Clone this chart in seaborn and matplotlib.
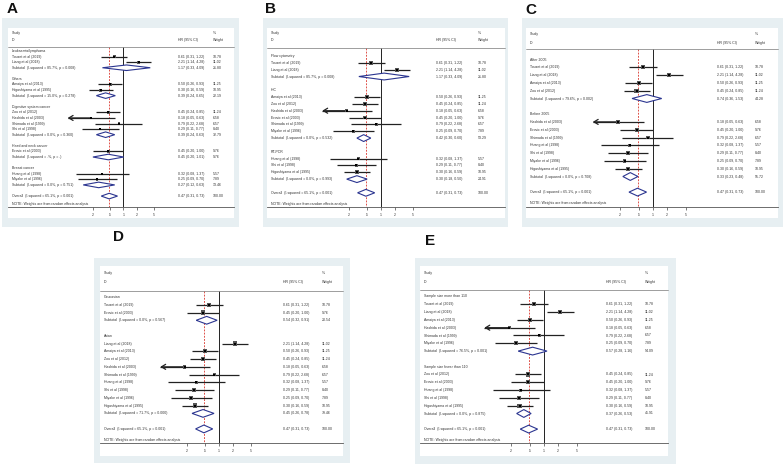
import numpy as np
import pandas as pd
import matplotlib
matplotlib.use("Agg")
import matplotlib.pyplot as plt
import seaborn as sns
from matplotlib.patches import Rectangle, Polygon
from matplotlib.transforms import blended_transform_factory
from matplotlib.ticker import NullLocator

# ---------------- data ----------------
STUDY = ["Touzet et al (2019)", "Liang et al (2018)", "Amaiya et al (2013)", "Zou et al (2012)",
         "Hashida et al (2003)", "Erovic et al (2003)", "Shimada et al (1999)", "Huang et al (1998)",
         "Shi et al (1998)", "Miyake et al (1996)", "Higashiyama et al (1995)"]
HR = [0.61, 2.21, 0.50, 0.45, 0.18, 0.45, 0.79, 0.32, 0.29, 0.25, 0.30]
LO = [0.31, 1.14, 0.26, 0.24, 0.05, 0.20, 0.22, 0.08, 0.11, 0.09, 0.16]
HI = [1.22, 4.28, 0.93, 0.85, 0.63, 1.00, 2.68, 1.37, 0.77, 0.70, 0.59]
WEIGHT = [10.78, 11.02, 11.25, 11.24, 6.58, 9.76, 6.57, 5.57, 8.40, 7.89, 10.95]

OVERALL_LABEL = "Overall  (I-squared = 65.1%, p = 0.001)"
OVERALL_HR, OVERALL_LO, OVERALL_HI, OVERALL_W = 0.47, 0.31, 0.73, 100.00
NOTE = "NOTE: Weights are from random effects analysis"

TICKS = [0.2, 0.5, 1, 2, 5]
TICK_LABELS = [".2", ".5", "1", "2", "5"]

A_GROUPS = ["Leukaemia/lymphoma", "Others", "Digestive system cancer", "Head and neck cancer", "Breast cancer"]
A_MEMBERS = [["Touzet et al (2019)", "Liang et al (2018)"],
             ["Amaiya et al (2013)", "Higashiyama et al (1995)"],
             ["Zou et al (2012)", "Hashida et al (2003)", "Shimada et al (1999)", "Shi et al (1998)"],
             ["Erovic et al (2003)"],
             ["Huang et al (1998)", "Miyake et al (1996)"]]
A_SUB_STAT = ["(I-squared = 85.7%, p = 0.008)", "(I-squared = 15.0%, p = 0.278)",
              "(I-squared = 0.0%, p = 0.360)", "(I-squared = .%, p = .)", "(I-squared = 0.0%, p = 0.751)"]
A_SUB_HR = [1.17, 0.39, 0.39, 0.45, 0.27]
A_SUB_LO = [0.33, 0.24, 0.24, 0.20, 0.12]
A_SUB_HI = [4.09, 0.65, 0.63, 1.01, 0.63]
A_SUB_W = [21.80, 22.19, 32.79, 9.76, 13.46]

B_GROUPS = ["Flow cytometry", "IHC", "RT-PCR"]
B_MEMBERS = [["Touzet et al (2019)", "Liang et al (2018)"],
             ["Amaiya et al (2013)", "Zou et al (2012)", "Hashida et al (2003)", "Erovic et al (2003)",
              "Shimada et al (1999)", "Miyake et al (1996)"],
             ["Huang et al (1998)", "Shi et al (1998)", "Higashiyama et al (1995)"]]
B_SUB_STAT = ["(I-squared = 85.7%, p = 0.008)", "(I-squared = 0.0%, p = 0.532)", "(I-squared = 0.0%, p = 0.993)"]
B_SUB_HR = [1.17, 0.42, 0.30]
B_SUB_LO = [0.33, 0.30, 0.18]
B_SUB_HI = [4.09, 0.60, 0.50]
B_SUB_W = [21.80, 53.29, 24.91]

C_GROUPS = ["After 2005", "Before 2005"]
C_MEMBERS = [["Touzet et al (2019)", "Liang et al (2018)", "Amaiya et al (2013)", "Zou et al (2012)"],
             ["Hashida et al (2003)", "Erovic et al (2003)", "Shimada et al (1999)", "Huang et al (1998)",
              "Shi et al (1998)", "Miyake et al (1996)", "Higashiyama et al (1995)"]]
C_SUB_STAT = ["(I-squared = 79.6%, p = 0.002)", "(I-squared = 0.0%, p = 0.708)"]
C_SUB_HR = [0.74, 0.33]
C_SUB_LO = [0.36, 0.23]
C_SUB_HI = [1.53, 0.48]
C_SUB_W = [44.28, 55.72]

D_GROUPS = ["Caucasian", "Asian"]
D_MEMBERS = [["Touzet et al (2019)", "Erovic et al (2003)"],
             ["Liang et al (2018)", "Amaiya et al (2013)", "Zou et al (2012)", "Hashida et al (2003)",
              "Shimada et al (1999)", "Huang et al (1998)", "Shi et al (1998)", "Miyake et al (1996)",
              "Higashiyama et al (1995)"]]
D_SUB_STAT = ["(I-squared = 0.0%, p = 0.567)", "(I-squared = 71.7%, p = 0.000)"]
D_SUB_HR = [0.54, 0.45]
D_SUB_LO = [0.32, 0.26]
D_SUB_HI = [0.91, 0.78]
D_SUB_W = [20.54, 79.46]

E_GROUPS = ["Sample size more than 110", "Sample size fewer than 110"]
E_MEMBERS = [["Touzet et al (2019)", "Liang et al (2018)", "Amaiya et al (2013)", "Hashida et al (2003)",
              "Shimada et al (1999)", "Miyake et al (1996)"],
             ["Zou et al (2012)", "Erovic et al (2003)", "Huang et al (1998)", "Shi et al (1998)",
              "Higashiyama et al (1995)"]]
E_SUB_STAT = ["(I-squared = 76.5%, p = 0.001)", "(I-squared = 0.0%, p = 0.875)"]
E_SUB_HR = [0.57, 0.37]
E_SUB_LO = [0.28, 0.26]
E_SUB_HI = [1.16, 0.53]
E_SUB_W = [54.09, 45.91]

PANELS = [
    ("A", A_GROUPS, A_MEMBERS, A_SUB_STAT, A_SUB_HR, A_SUB_LO, A_SUB_HI, A_SUB_W),
    ("B", B_GROUPS, B_MEMBERS, B_SUB_STAT, B_SUB_HR, B_SUB_LO, B_SUB_HI, B_SUB_W),
    ("C", C_GROUPS, C_MEMBERS, C_SUB_STAT, C_SUB_HR, C_SUB_LO, C_SUB_HI, C_SUB_W),
    ("D", D_GROUPS, D_MEMBERS, D_SUB_STAT, D_SUB_HR, D_SUB_LO, D_SUB_HI, D_SUB_W),
    ("E", E_GROUPS, E_MEMBERS, E_SUB_STAT, E_SUB_HR, E_SUB_LO, E_SUB_HI, E_SUB_W),
]

# ---------------- layout (pixels) ----------------
W, H = 783, 465
LAYOUT = {
    "A": dict(bg=(2, 18, 239, 227), white=(8, 28, 234, 218), axis=207, r0=51, dy=5.58, p1=123.5, s=19,
              hr_x=178, w_x=213, study_y=33, id_y=39.5, sep_y=47, note_y=204, label=(7, 13)),
    "B": dict(bg=(263, 18, 508, 227), white=(267, 28, 505, 218), axis=207, r0=56, dy=6.84, p1=381, s=20,
              hr_x=436, w_x=478, study_y=33, id_y=40, sep_y=48, note_y=204, label=(265, 13)),
    "C": dict(bg=(522, 18, 783, 227), white=(526, 28, 778, 218), axis=207, r0=59.5, dy=7.8, p1=653, s=20.5,
              hr_x=717, w_x=755, study_y=34, id_y=43, sep_y=49, note_y=203, label=(525, 14)),
    "D": dict(bg=(94, 258, 350, 463), white=(100, 266, 343, 456), axis=443, r0=297, dy=7.76, p1=219, s=20,
              hr_x=283, w_x=322, study_y=273, id_y=282, sep_y=291, note_y=440, label=(113, 241)),
    "E": dict(bg=(415, 258, 676, 464), white=(420, 266, 668, 456), axis=443, r0=296.5, dy=7.8, p1=544, s=20.3,
              hr_x=606, w_x=645, study_y=273, id_y=282, sep_y=290, note_y=440, label=(425, 245)),
}
CLIP_LO = 0.053
FS = 2.5
TXT = "#333333"
BG = "#e7eff2"
DIAMOND = "#2b3590"
CI_COLOR = "#222222"

sns.set_theme(style="white")
plt.rcParams["font.family"] = ["Liberation Sans", "DejaVu Sans"]

fig = plt.figure(figsize=(W / 100, H / 100), dpi=100)
fig.patch.set_facecolor("white")

lookup = {n: i for i, n in enumerate(STUDY)}


def fmt(h, l, u):
    return f"{h:.2f} ({l:.2f}, {u:.2f})"


for key, groups, members, sstat, shr, slo, shi, sw in PANELS:
    lay = LAYOUT[key]
    bx0, by0, bx1, by1 = lay["bg"]
    wx0, wy0, wx1, wy1 = lay["white"]
    fig.patches.append(Rectangle((bx0 / W, 1 - by1 / H), (bx1 - bx0) / W, (by1 - by0) / H,
                                 transform=fig.transFigure, facecolor=BG, edgecolor="none", zorder=-3))
    fig.patches.append(Rectangle((wx0 / W, 1 - wy1 / H), (wx1 - wx0) / W, (wy1 - wy0) / H,
                                 transform=fig.transFigure, facecolor="white", edgecolor="none", zorder=-2))
    lx, ly = lay["label"]
    fig.text(lx / W, 1 - ly / H, key, fontsize=11, fontweight="bold", ha="left", va="baseline",
             family=["Liberation Sans", "DejaVu Sans"], color="#111111")

    L, R, T, AX = wx0, wx1, wy0, lay["axis"]
    r0, dy, p1, s = lay["r0"], lay["dy"], lay["p1"], lay["s"]
    ax = fig.add_axes([L / W, 1 - AX / H, (R - L) / W, (AX - T) / H])
    ax.set_facecolor("none")
    ax.set_xscale("log")
    xlim = (np.exp((L - p1) / s), np.exp((R - p1) / s))
    ybot, ytop = (AX - r0) / dy, (T - r0) / dy
    trans = blended_transform_factory(ax.transAxes, ax.transData)

    def row(py):
        return (py - r0) / dy

    def tx(px):
        return (px - L) / (R - L)

    xt = tx(L + 4)
    kw = dict(fontsize=FS, color=TXT, va="center", transform=trans)

    recs, subs, heads = [], [], []
    i = 0
    for g, mem, st, h, l, u, w in zip(groups, members, sstat, shr, slo, shi, sw):
        heads.append((g, i))
        i += 1
        for m in mem:
            k = lookup[m]
            recs.append(dict(study=m, hr=HR[k], lo=LO[k], hi=HI[k], w=WEIGHT[k], row=float(i)))
            i += 1
        subs.append(dict(label="Subtotal  " + st, hr=h, lo=l, hi=u, w=w, row=float(i)))
        i += 2
    subs.append(dict(label=OVERALL_LABEL, hr=OVERALL_HR, lo=OVERALL_LO, hi=OVERALL_HI, w=OVERALL_W, row=float(i)))
    df = pd.DataFrame(recs)
    sdf = pd.DataFrame(subs)

    # confidence intervals
    lo_arr = df["lo"].to_numpy(dtype=float)
    hi_arr = df["hi"].to_numpy(dtype=float)
    hr_arr = df["hr"].to_numpy(dtype=float)
    rows_arr = df["row"].to_numpy(dtype=float)
    ax.hlines(rows_arr, np.maximum(lo_arr, CLIP_LO), hi_arr, colors=CI_COLOR, linewidth=0.9, zorder=4)
    for yv, lv, hv in zip(rows_arr, lo_arr, hr_arr):
        if lv < CLIP_LO:
            ax.annotate("", xy=(CLIP_LO, yv), xytext=(hv, yv), xycoords="data", textcoords="data",
                        arrowprops=dict(arrowstyle="->,head_length=0.25,head_width=0.15", lw=0.9,
                                        color=CI_COLOR, shrinkA=0, shrinkB=0), zorder=4)

    # weight boxes (seaborn)
    side_k = 0.56 * dy / np.sqrt(11.25) * 0.72
    sns.scatterplot(data=df, x="hr", y="row", size="w", sizes=(0, side_k ** 2 * 12), size_norm=(0, 12),
                    marker="s", color="#555555", linewidth=0, legend=False, ax=ax, zorder=5)
    ax.scatter(hr_arr, rows_arr, s=0.8, marker="s", color="black", linewidths=0, zorder=6)

    # reference lines
    ax.vlines([1.0], row(lay["sep_y"]), ybot, colors="#222222", linewidth=0.7, zorder=1)
    ax.vlines([OVERALL_HR], row(lay["sep_y"]), ybot, colors="#d9342b", linewidth=0.6,
              linestyles=(0, (2.2, 1.6)), zorder=1)

    # diamonds
    for yv, lv, hv, uv in zip(sdf["row"], sdf["lo"], sdf["hr"], sdf["hi"]):
        ax.add_patch(Polygon([[lv, yv], [hv, yv - 0.5], [uv, yv], [hv, yv + 0.5]],
                             closed=True, facecolor="white", edgecolor=DIAMOND, lw=0.8, zorder=3))

    # texts
    ax.text(xt, row(lay["study_y"]), "Study", **kw)
    ax.text(xt, row(lay["id_y"]), "ID", **kw)
    ax.text(tx(lay["hr_x"]), row(lay["id_y"]), "HR (95% CI)", **kw)
    ax.text(tx(lay["w_x"]), row(lay["study_y"]), "%", **kw)
    ax.text(tx(lay["w_x"]), row(lay["id_y"]), "Weight", **kw)
    ax.plot([0, 1], [row(lay["sep_y"])] * 2, transform=trans, color="#777777", lw=0.5, clip_on=False)
    for g, yv in heads:
        ax.text(xt, yv, g, **kw)
    for _, r in df.iterrows():
        ax.text(xt, r["row"], r["study"], **kw)
        ax.text(tx(lay["hr_x"]), r["row"], fmt(r["hr"], r["lo"], r["hi"]), **kw)
        ax.text(tx(lay["w_x"]), r["row"], f"{r['w']:.2f}", **kw)
    for _, r in sdf.iterrows():
        ax.text(xt, r["row"], r["label"], **kw)
        ax.text(tx(lay["hr_x"]), r["row"], fmt(r["hr"], r["lo"], r["hi"]), **kw)
        ax.text(tx(lay["w_x"]), r["row"], f"{r['w']:.2f}", **kw)
    ax.text(xt, row(lay["note_y"]), NOTE, **kw)

    # axes styling
    ax.set_xlim(*xlim)
    ax.set_ylim(ybot, ytop)
    ax.set_xlabel("")
    ax.set_ylabel("")
    ax.set_yticks([])
    ax.set_xticks(TICKS)
    ax.set_xticklabels(TICK_LABELS)
    ax.xaxis.set_minor_locator(NullLocator())
    ax.tick_params(axis="x", length=2.5, width=0.5, pad=1.5, labelsize=FS, colors="#444444",
                   labelcolor=TXT, bottom=True)
    for sp in ["top", "left", "right"]:
        ax.spines[sp].set_visible(False)
    ax.spines["bottom"].set_color("#555555")
    ax.spines["bottom"].set_linewidth(0.6)
    ax.grid(False)

fig.savefig("out.png", dpi=100)
